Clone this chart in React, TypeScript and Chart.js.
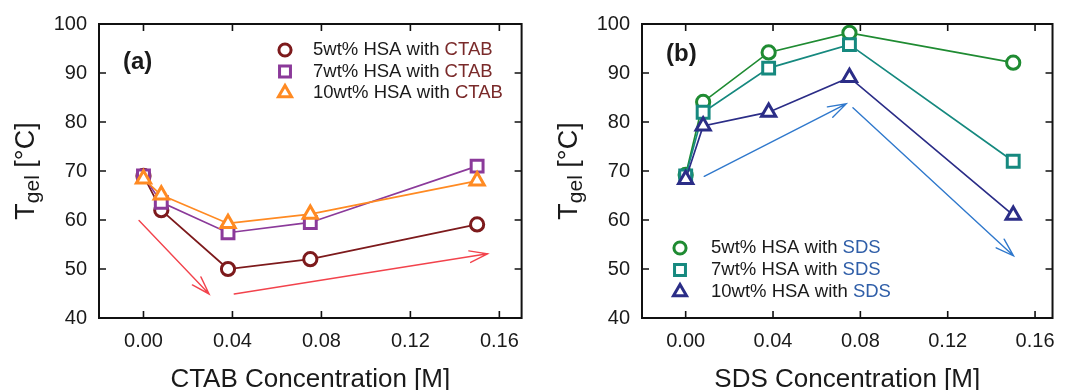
import React, { useEffect, useRef } from 'react';
import { Chart, registerables } from 'chart.js';
Chart.register(...registerables);

// ---------- data ----------
const concentrations = [0, 0.008, 0.038, 0.075, 0.15];
const ctab5 = [69, 62, 50, 52, 59.1];
const ctab7 = [69, 63.6, 57.4, 59.5, 71];
const ctab10 = [68.4, 65.1, 59.3, 61.2, 68];
const sds5 = [69.2, 84.1, 94.2, 98.2, 92.1];
const sds7 = [69, 82, 91, 95.8, 72];
const sds10 = [68.3, 79.2, 82, 89.1, 61];
const yTicks = [40, 50, 60, 70, 80, 90, 100];
const xTicks = [0, 0.04, 0.08, 0.12, 0.16];
// arrows: [x1, y1, x2, y2] in data units
const ctabArrows = [
  [-0.002, 59.9, 0.0295, 44.9],
  [0.0408, 44.9, 0.1547, 53.1],
];
const sdsArrows = [
  [0.0085, 68.9, 0.0735, 83.7],
  [0.0766, 82.9, 0.1501, 52.7],
];
const seriesPrefixes = ['5wt% HSA with ', '7wt% HSA with ', '10wt% HSA with '];

const FONT = "'Liberation Sans', Arial, sans-serif";
const TEXT = '#1a1a1a';

type Spec = {
  id: string;
  xMax: number;
  yAxisWidth: number;
  rightPad: number;
  colors: string[];
  surfactant: string;
  surfColor: string;
  series: number[][];
  arrows: number[][];
  arrowColor: string;
  xTitle: string;
  panel: string;
  panelPos: [number, number];
  legend: { mx: number; tx: number; y0: number; dy: number };
};

const styles = ['circle', 'rect', 'triangle'];
const radii = [6.6, 8.4, 8.2];

function drawMarker(ctx: CanvasRenderingContext2D, style: string, x: number, y: number, r: number) {
  ctx.beginPath();
  if (style === 'circle') {
    ctx.arc(x, y, r, 0, Math.PI * 2);
  } else if (style === 'rect') {
    const s = Math.SQRT1_2 * r;
    ctx.rect(x - s, y - s, 2 * s, 2 * s);
  } else {
    let rad = 0;
    const T = (2 * Math.PI) / 3;
    ctx.moveTo(x + Math.sin(rad) * r, y - Math.cos(rad) * r);
    rad += T;
    ctx.lineTo(x + Math.sin(rad) * r, y - Math.cos(rad) * r);
    rad += T;
    ctx.lineTo(x + Math.sin(rad) * r, y - Math.cos(rad) * r);
    ctx.closePath();
  }
  ctx.fillStyle = '#ffffff';
  ctx.fill();
  ctx.stroke();
}

function makeDecor(p: Spec) {
  return {
    id: 'decor' + p.id,
    beforeDatasetsDraw(chart: any) {
      const { ctx, scales } = chart;
      const xs = scales.x, ys = scales.y;
      ctx.save();
      ctx.strokeStyle = p.arrowColor;
      ctx.lineWidth = 1.4;
      ctx.lineCap = 'round';
      p.arrows.forEach(([x1, y1, x2, y2]) => {
        const ax = xs.getPixelForValue(x1), ay = ys.getPixelForValue(y1);
        const bx = xs.getPixelForValue(x2), by = ys.getPixelForValue(y2);
        ctx.beginPath();
        ctx.moveTo(ax, ay);
        ctx.lineTo(bx, by);
        const ang = Math.atan2(ay - by, ax - bx);
        const L = 19, da = (18 * Math.PI) / 180;
        ctx.moveTo(bx + L * Math.cos(ang + da), by + L * Math.sin(ang + da));
        ctx.lineTo(bx, by);
        ctx.lineTo(bx + L * Math.cos(ang - da), by + L * Math.sin(ang - da));
        ctx.stroke();
      });
      ctx.restore();
    },
    afterDraw(chart: any) {
      const { ctx, chartArea: a, scales } = chart;
      const xs = scales.x, ys = scales.y;
      ctx.save();
      // frame
      ctx.strokeStyle = '#111';
      ctx.lineWidth = 2;
      ctx.strokeRect(a.left, a.top, a.right - a.left, a.bottom - a.top);
      // inward ticks
      ctx.lineWidth = 1.6;
      const TL = 7;
      ctx.beginPath();
      xTicks.forEach((v) => {
        const px = xs.getPixelForValue(v);
        ctx.moveTo(px, a.bottom);
        ctx.lineTo(px, a.bottom - TL);
        ctx.moveTo(px, a.top);
        ctx.lineTo(px, a.top + TL);
      });
      yTicks.forEach((v) => {
        const py = ys.getPixelForValue(v);
        ctx.moveTo(a.left, py);
        ctx.lineTo(a.left + TL, py);
        ctx.moveTo(a.right, py);
        ctx.lineTo(a.right - TL, py);
      });
      ctx.stroke();

      // x title
      ctx.fillStyle = TEXT;
      ctx.font = `26px ${FONT}`;
      ctx.textAlign = 'center';
      ctx.textBaseline = 'alphabetic';
      ctx.fillText(p.xTitle, (a.left + a.right) / 2, 387);

      // y title  T_gel [°C]
      ctx.save();
      const cy = (a.top + a.bottom) / 2;
      ctx.translate(a.left - 65, cy);
      ctx.rotate(-Math.PI / 2);
      ctx.textAlign = 'left';
      const big = `27px ${FONT}`, small = `21px ${FONT}`;
      ctx.font = big;
      const wT = ctx.measureText('T').width;
      const wRest = ctx.measureText(' [°C]').width;
      ctx.font = small;
      const wSub = ctx.measureText('gel').width;
      let x0 = -(wT + wSub + wRest) / 2;
      ctx.font = big;
      ctx.fillText('T', x0, 0);
      x0 += wT;
      ctx.font = small;
      ctx.fillText('gel', x0, 5);
      x0 += wSub;
      ctx.font = big;
      ctx.fillText(' [°C]', x0, 0);
      ctx.restore();

      // panel label
      ctx.font = `bold 24px ${FONT}`;
      ctx.textAlign = 'left';
      ctx.textBaseline = 'middle';
      ctx.fillStyle = TEXT;
      ctx.fillText(p.panel, p.panelPos[0], p.panelPos[1]);

      // legend
      ctx.font = `18.5px ${FONT}`;
      seriesPrefixes.forEach((pre, i) => {
        const y = p.legend.y0 + i * p.legend.dy;
        ctx.strokeStyle = p.colors[i];
        ctx.lineWidth = 3;
        drawMarker(ctx, styles[i], p.legend.mx, y, radii[i] * 0.92);
        ctx.fillStyle = TEXT;
        ctx.textBaseline = 'middle';
        ctx.fillText(pre, p.legend.tx, y);
        const w = ctx.measureText(pre).width;
        ctx.fillStyle = p.surfColor;
        ctx.fillText(p.surfactant, p.legend.tx + w, y);
      });
      ctx.restore();
    },
  };
}

function makeConfig(p: Spec): any {
  const datasets = p.series.map((ys, i) => ({
    label: seriesPrefixes[i] + p.surfactant,
    data: concentrations.map((x, j) => ({ x, y: ys[j] })),
    borderColor: p.colors[i],
    borderWidth: 1.7,
    pointStyle: styles[i],
    pointRadius: radii[i],
    pointBorderColor: p.colors[i],
    pointBackgroundColor: '#ffffff',
    pointBorderWidth: 3,
    tension: 0,
    fill: false,
    order: 3 - i,
  }));
  const tickFont = { family: FONT, size: 20 };
  return {
    type: 'line',
    data: { datasets },
    options: {
      animation: false,
      responsive: false,
      maintainAspectRatio: false,
      layout: { padding: { left: 0, right: p.rightPad, top: 22, bottom: 0 } },
      plugins: { legend: { display: false }, tooltip: { enabled: false } },
      scales: {
        x: {
          type: 'linear',
          min: -0.02,
          max: p.xMax,
          grid: { display: false, drawTicks: false },
          border: { display: false },
          ticks: {
            padding: 11,
            font: tickFont,
            color: TEXT,
            maxRotation: 0,
            autoSkip: false,
            callback: (v: any) => Number(v).toFixed(2),
          },
          afterBuildTicks: (s: any) => {
            s.ticks = xTicks.map((v) => ({ value: v }));
          },
          afterFit: (s: any) => {
            s.height = 72;
          },
        },
        y: {
          type: 'linear',
          min: 40,
          max: 100,
          grid: { display: false, drawTicks: false },
          border: { display: false },
          ticks: { padding: 12, font: tickFont, color: TEXT },
          afterBuildTicks: (s: any) => {
            s.ticks = yTicks.map((v) => ({ value: v }));
          },
          afterFit: (s: any) => {
            s.width = p.yAxisWidth;
          },
        },
      },
    },
    plugins: [makeDecor(p)],
  };
}

const ctabSpec: Spec = {
  id: 'a',
  xMax: 0.17,
  yAxisWidth: 99,
  rightPad: 10,
  colors: ['#7d1a1c', '#8b3a9a', '#ff8a22'],
  surfactant: 'CTAB',
  surfColor: '#7a2a2a',
  series: [ctab5, ctab7, ctab10],
  arrows: ctabArrows,
  arrowColor: '#f2434c',
  xTitle: 'CTAB Concentration [M]',
  panel: '(a)',
  panelPos: [123, 62],
  legend: { mx: 285, tx: 313, y0: 50, dy: 21.5 },
};

const sdsSpec: Spec = {
  id: 'b',
  xMax: 0.168,
  yAxisWidth: 109,
  rightPad: 5,
  colors: ['#1f8b32', '#16897f', '#2b2d87'],
  surfactant: 'SDS',
  surfColor: '#2f5ea8',
  series: [sds5, sds7, sds10],
  arrows: sdsArrows,
  arrowColor: '#2f78cc',
  xTitle: 'SDS Concentration [M]',
  panel: '(b)',
  panelPos: [133, 54],
  legend: { mx: 147, tx: 178, y0: 248, dy: 22 },
};

function Panel({ spec, left }: { spec: Spec; left: number }) {
  const ref = useRef<HTMLCanvasElement>(null);
  useEffect(() => {
    if (!ref.current) return;
    const chart = new Chart(ref.current, makeConfig(spec));
    return () => chart.destroy();
  }, []);
  return (
    <div style={{ position: 'absolute', left, top: 0, width: 533, height: 390 }}>
      <canvas ref={ref} width={533} height={390} style={{ width: 533, height: 390, display: 'block' }} />
    </div>
  );
}

export default function App() {
  return (
    <div style={{ position: 'absolute', left: 0, top: 0, width: 1066, height: 390, background: '#ffffff', overflow: 'hidden' }}>
      <Panel spec={ctabSpec} left={0} />
      <Panel spec={sdsSpec} left={533} />
    </div>
  );
}
